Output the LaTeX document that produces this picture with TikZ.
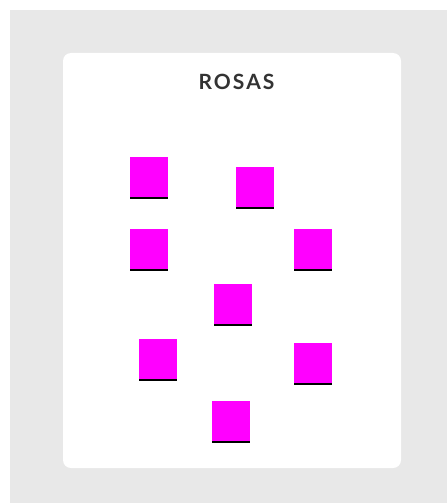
\documentclass[tikz,border=0pt]{standalone}
\usepackage{fontspec}
\setsansfont{Lato}
\usetikzlibrary{shadows}
\definecolor{fondo}{HTML}{E8E8E8}
\definecolor{titulo}{HTML}{333333}
\definecolor{rosado}{HTML}{FF00FF}
\begin{document}
\begin{tikzpicture}[x=1pt,y=-1pt,
  rosa/.style={fill=rosado,minimum width=38pt,minimum height=40pt,inner sep=0pt,
    drop shadow={shadow xshift=0pt,shadow yshift=-1.5pt,fill=black,opacity=1}}]
  \useasboundingbox (0,0) rectangle (447,503);
  \fill[fondo] (10,10) rectangle (447,503);
  \fill[white,rounded corners=8pt] (63,53) rectangle (401,468);
  \node[text=titulo,font=\sffamily\bfseries\fontsize{21}{23}\selectfont\addfontfeature{LetterSpace=10}] (titulo) at (236.5,81.5) {ROSAS};
  \node[rosa] (rosa1) at (149,177) {};
  \node[rosa] (rosa2) at (254.5,187) {};
  \node[rosa] (rosa3) at (149,249) {};
  \node[rosa] (rosa4) at (312.5,249) {};
  \node[rosa] (rosa5) at (232.5,304) {};
  \node[rosa] (rosa6) at (158,359) {};
  \node[rosa] (rosa7) at (312.5,363) {};
  \node[rosa] (rosa8) at (230.5,421) {};
\end{tikzpicture}
\end{document}
